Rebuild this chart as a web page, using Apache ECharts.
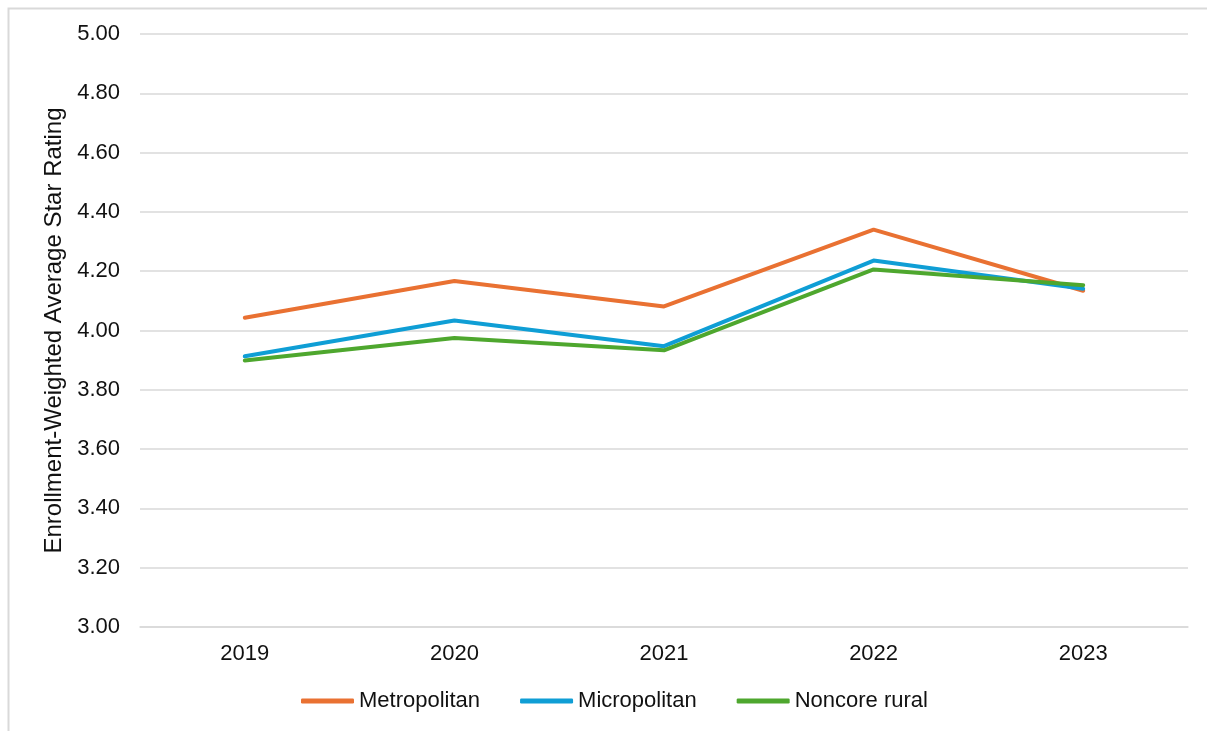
<!DOCTYPE html>
<html>
<head>
<meta charset="utf-8">
<script src="https://cdn.jsdelivr.net/npm/echarts@6/dist/echarts.min.js"></script>
<style>
  html, body { margin: 0; padding: 0; background: #ffffff; }
  #chart { width: 1207px; height: 731px; }
</style>
</head>
<body>
<div id="chart"></div>
<script>
// Plan years on the category axis
const years = ['2019', '2020', '2021', '2022', '2023'];

// Enrollment-weighted average star rating by area type
const metropolitan = [4.043, 4.167, 4.081, 4.340, 4.134];
const micropolitan = [3.913, 4.034, 3.947, 4.236, 4.141];
const noncoreRural = [3.899, 3.975, 3.933, 4.206, 4.153];

const yTitle = 'Enrollment-Weighted Average Star Rating';

const textColor = '#111111';
const fontFamily = '"Liberation Sans", Arial, sans-serif';

function lineSeries(name, data, color) {
  return {
    name: name,
    type: 'line',
    data: data,
    symbol: 'none',
    smooth: false,
    lineStyle: { color: color, width: 4, cap: 'round', join: 'round' },
    itemStyle: { color: color }
  };
}

const chart = echarts.init(document.getElementById('chart'), null, { renderer: 'canvas' });

chart.setOption({
  animation: false,
  backgroundColor: '#ffffff',
  textStyle: { fontFamily: fontFamily, color: textColor },
  graphic: [{
    type: 'rect',
    left: 6,
    top: 6,
    shape: { width: 1230, height: 760 },
    style: { fill: 'none', stroke: '#d9d9d9', lineWidth: 2 },
    silent: true,
    z: -10
  }],
  grid: { left: 140, right: 19, top: 34, bottom: 104, containLabel: false },
  legend: {
    left: 301,
    top: 690,
    padding: 0,
    itemWidth: 53,
    itemHeight: 5,
    itemGap: 40,
    icon: 'roundRect',
    textStyle: { fontSize: 22, color: textColor, fontFamily: fontFamily },
    data: ['Metropolitan', 'Micropolitan', 'Noncore rural']
  },
  xAxis: {
    type: 'category',
    data: years,
    boundaryGap: true,
    axisLine: { show: true, lineStyle: { color: '#d9d9d9', width: 1.5 } },
    axisTick: { show: false },
    axisLabel: { fontSize: 22, color: textColor, margin: 16, fontFamily: fontFamily }
  },
  yAxis: {
    type: 'value',
    min: 3,
    max: 5,
    interval: 0.2,
    name: yTitle,
    nameLocation: 'middle',
    nameGap: 70,
    nameTextStyle: { fontSize: 24, color: textColor, fontFamily: fontFamily },
    axisLine: { show: false },
    axisTick: { show: false },
    axisLabel: {
      fontSize: 22,
      color: textColor,
      margin: 20,
      fontFamily: fontFamily,
      formatter: v => v.toFixed(2)
    },
    splitLine: { show: true, lineStyle: { color: '#d9d9d9', width: 1.5 } }
  },
  series: [
    lineSeries('Metropolitan', metropolitan, '#E97132'),
    lineSeries('Micropolitan', micropolitan, '#0F9ED5'),
    lineSeries('Noncore rural', noncoreRural, '#4EA72E')
  ]
});
</script>
</body>
</html>
